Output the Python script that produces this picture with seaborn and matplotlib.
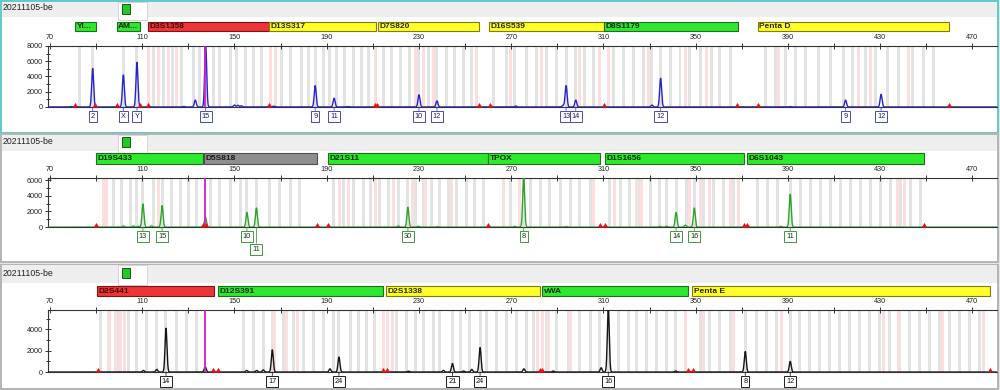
import numpy as np
import pandas as pd
import matplotlib
matplotlib.use("Agg")
import matplotlib.pyplot as plt
import seaborn as sns
from matplotlib.patches import Rectangle
from matplotlib.markers import MarkerStyle

# ======================= DATA =======================
sample_name = "20211105-be"
bp_ticks_labeled = [70, 110, 150, 190, 230, 270, 310, 350, 390, 430, 470]
bp_ticks_minor = [90, 130, 170, 210, 250, 290, 330, 370, 410, 450]
cursor_bp = 137.3

# ---- Panel 1 (blue dye) ----
p1_loci = ["Yi...", "AM...", "D3S1358", "D13S317", "D7S820", "D16S539", "D8S1179", "Penta D"]
p1_loci_start = [81.0, 98.9, 112.4, 165.1, 212.4, 260.4, 310.4, 376.9]
p1_loci_end = [90.0, 109.0, 165.1, 211.2, 256.0, 310.4, 368.2, 459.9]
p1_loci_status = ["green", "green", "red", "yellow", "yellow", "yellow", "green", "yellow"]
p1_peak_bp = [88.5, 101.8, 107.7, 133.0, 137.5, 185.0, 193.2, 230.0, 237.8, 293.8, 298.0, 334.8, 415.0, 430.4]
p1_peak_rfu = [5050, 4200, 5850, 900, 8300, 2800, 1150, 1600, 800, 2800, 900, 3750, 900, 1650]
p1_peak_allele = ["2", "X", "Y", "", "15", "9", "11", "10", "12", "13", "14", "12", "9", "12"]
p1_noise_bp = [79, 81.5, 113, 128, 150, 151.5, 153, 167, 199, 272, 292.5, 331, 391]
p1_noise_rfu = [60, 60, 80, 60, 250, 220, 150, 100, 60, 120, 200, 250, 60]
p1_flags_bp = [81, 89.6, 98.9, 109, 112.5, 164.8, 211.0, 211.8, 255.9, 260.8, 310.4, 368, 376.9, 459.9]
p1_yticks = [0, 2000, 4000, 6000, 8000]
p1_ymax = 8000
p1_bins_gray = [82.6, 88.5, 101.8, 107.6, 114.8, 119.1, 123.2, 127.1, 132.2, 135, 137.5, 140.8,
                143.7, 148.1, 150.9, 154.6, 158.2, 161.8, 170.5, 174.1, 179.1, 182, 185, 188.5,
                191.4, 194.3, 197.9, 201.5, 205.2, 208, 214.5, 218.2, 221.8, 226.1, 230, 234,
                237.8, 242, 245.6, 249.2, 252.9, 262.3, 268, 271.6, 276.7, 281, 285.4, 289.7,
                293.8, 297.7, 302, 305.6, 314.3, 318.6, 322.9, 327.3, 330.9, 334.8, 338.9, 343.2,
                347.5, 351.9, 356.9, 360.5, 364.9, 380.3, 384.6, 389, 393.3, 397.6, 403.4, 408.5,
                414.3, 417.9, 423.7, 428, 433.1, 438.1, 443.9, 449, 453.3]
p1_bins_pink = [112.9, 117, 121.3, 124.9, 165.5, 168, 211.3, 228.3, 231.9, 236.2, 255, 269.5,
                283.2, 299.8, 308.5, 312.1, 329.5, 345.4, 354.7, 386, 420.8, 425.9, 442.5]

# ---- Panel 2 (green dye) ----
p2_loci = ["D19S433", "D5S818", "D21S11", "TPOX", "D1S1656", "D6S1043"]
p2_loci_start = [89.8, 136.9, 190.7, 260.1, 310.7, 372.1]
p2_loci_end = [136.2, 185.7, 260.1, 308.6, 371.1, 449.1]
p2_loci_status = ["green", "gray", "green", "green", "green", "green"]
p2_peak_bp = [110.3, 118.6, 155.4, 159.5, 225.2, 275.4, 341.5, 349.4, 391.0]
p2_peak_rfu = [2950, 2750, 1870, 2440, 2530, 6400, 1870, 2440, 4200]
p2_peak_allele = ["13", "15", "10", "11", "30", "8", "14", "16", "11"]
p2_noise_bp = [101.8, 106.1, 108.3, 114, 137.4, 221, 229.7, 238, 271.6, 294, 334.5, 337.4, 345.5, 386.9]
p2_noise_rfu = [150, 150, 100, 150, 1300, 150, 100, 60, 100, 80, 100, 100, 250, 100]
p2_flags_bp = [89.8, 136.4, 137.5, 185.7, 190.7, 260.1, 308.6, 310.7, 371.1, 372.1, 449.1]
p2_yticks = [0, 2000, 4000, 6000]
p2_ymax = 6270
p2_bins_gray = [97.5, 101.1, 104.7, 107.6, 110.3, 114.8, 118.6, 122.8, 126.4, 130, 133.6, 139.4,
                143.7, 148.1, 152.4, 155.4, 159.5, 165.4, 169.7, 174.1, 178.4, 192.9, 197.2, 201.5,
                205.9, 208.8, 213.1, 216.7, 221.1, 225.2, 228.3, 231.9, 235.5, 239.1, 242.7, 246.4,
                250.7, 254.3, 257.9, 269.5, 275.4, 278.2, 282.5, 286.8, 291.2, 295.5, 299.8, 304.2,
                312.8, 317.2, 321.5, 325.8, 330.2, 334.5, 337.4, 341.5, 346, 349.4, 353.3, 357.6,
                361.9, 366.3, 376.8, 381.2, 385.5, 391, 395.6, 399.9, 404.3, 408.6, 412.9, 417.3,
                421.6, 426, 430.3, 434.6, 438.9, 443.3, 447.6]
p2_bins_pink = [93.1, 94.6, 117, 195.5, 199.4, 211, 219, 227, 233, 244, 266.6, 273.8, 305.6,
                315, 324.5, 326.7, 347.5, 351.9, 356.2, 364.9, 368.5, 437.5, 440.4]

# ---- Panel 3 (black dye) ----
p3_loci = ["D2S441", "D12S391", "D2S1338", "vWA", "Penta E"]
p3_loci_start = [90.5, 142.7, 215.7, 283.5, 348.5]
p3_loci_end = [141.0, 214.5, 282.6, 346.8, 477.6]
p3_loci_status = ["red", "green", "yellow", "green", "yellow"]
p3_peak_bp = [120.3, 166.4, 195.3, 244.5, 256.5, 312.1, 371.5, 391.0]
p3_peak_rfu = [4090, 2075, 1400, 800, 2290, 6000, 1915, 990]
p3_peak_allele = ["14", "17", "24", "21", "24", "16", "8", "12"]
p3_noise_bp = [110.5, 116.3, 137.3, 155.3, 159.6, 162.5, 191.4, 225.4, 240.6, 249.3, 252.9, 275.5, 288.2, 309, 341.3]
p3_noise_rfu = [150, 250, 500, 150, 150, 200, 300, 80, 150, 100, 250, 300, 100, 400, 100]
p3_flags_bp = [90.7, 140.8, 143, 214.5, 216, 282.5, 283.5, 346.5, 348.7, 477.6]
p3_yticks = [0, 2000, 4000]
p3_ymax = 5800
p3_bins_gray = [91.7, 95.3, 99.6, 104, 107.6, 112, 116.3, 120.3, 125, 129.3, 133.6, 153.8, 158.2,
                162.5, 166.4, 171.2, 175.5, 179.9, 184.2, 188.5, 192.9, 195.3, 200.1, 203.7, 207.3,
                210.9, 220.3, 224.7, 228.3, 231.9, 236.2, 239.1, 244.5, 247.8, 252.1, 256.5, 259.4,
                263.7, 268, 272.4, 276.7, 279.6, 285.4, 289.7, 294.8, 299.8, 304.2, 308.5, 312.1,
                316.5, 320.8, 324.4, 328.8, 333.1, 337.4, 341.1, 351.9, 356.2, 360.5, 364.9, 371.5,
                376.4, 380.8, 385.1, 391, 395.2, 399.5, 403.9, 408.2, 412.5, 416.9, 421.2, 425.5,
                429.9, 434.2, 438.5, 442.8, 447.2, 451.5, 455.8, 460.2, 464.5, 468.8, 473.2]
p3_bins_pink = [96, 98.2, 100.4, 102.5, 167.5, 172.5, 177.5, 214.5, 216.5, 218.5, 281.6, 283.5,
                286, 295.5, 345.4, 353.3, 366.3, 387.3, 431.3, 437.8, 457, 475]

# ======================= STYLE / LAYOUT =======================
W, H = 1000, 390
sns.set_theme(style="white")
plt.rcParams['font.family'] = ['Liberation Sans', 'DejaVu Sans']

status_fill = {"green": "#2ee82e", "yellow": "#ffff2a", "red": "#ee3535", "gray": "#8e8e8e"}
status_edge = {"green": "#1d6e1d", "yellow": "#7d7d10", "red": "#7a1515", "gray": "#505050"}
status_text = {"green": "#0c2a0c", "yellow": "#2a2a00", "red": "#4a0808", "gray": "#1a1a1a"}

panels = [
    dict(loci=p1_loci, ls=p1_loci_start, le=p1_loci_end, st=p1_loci_status,
         pbp=p1_peak_bp, prfu=p1_peak_rfu, pal=p1_peak_allele, nbp=p1_noise_bp, nrfu=p1_noise_rfu,
         flags=p1_flags_bp, yt=p1_yticks, ymax=p1_ymax, bg=p1_bins_gray, bp=p1_bins_pink,
         color="#2424cf", box="#4848c8", boxtext="#1c1c70", row2=set(),
         frame=(0.8, 0.8, 998.2, 133), fcol="#5fcaca", header=(1.5, 1.5, 997, 16.5), text_y=8,
         icon=(1.5, 19.5), bars=(21.6, 30.8), plot=(46, 107.2)),
    dict(loci=p2_loci, ls=p2_loci_start, le=p2_loci_end, st=p2_loci_status,
         pbp=p2_peak_bp, prfu=p2_peak_rfu, pal=p2_peak_allele, nbp=p2_noise_bp, nrfu=p2_noise_rfu,
         flags=p2_flags_bp, yt=p2_yticks, ymax=p2_ymax, bg=p2_bins_gray, bp=p2_bins_pink,
         color="#2aa52a", box="#3c9a3c", boxtext="#123812", row2={3},
         frame=(0.8, 134, 998.2, 262), fcol="#b4b4b4", header=(1.5, 134.5, 997, 150.5), text_y=141,
         icon=(134.5, 152.5), bars=(153.3, 163.7), plot=(178, 227.3)),
    dict(loci=p3_loci, ls=p3_loci_start, le=p3_loci_end, st=p3_loci_status,
         pbp=p3_peak_bp, prfu=p3_peak_rfu, pal=p3_peak_allele, nbp=p3_noise_bp, nrfu=p3_noise_rfu,
         flags=p3_flags_bp, yt=p3_yticks, ymax=p3_ymax, bg=p3_bins_gray, bp=p3_bins_pink,
         color="#151515", box="#222222", boxtext="#111111", row2=set(),
         frame=(0.8, 264.5, 998.2, 389.3), fcol="#b4b4b4", header=(1.5, 265, 997, 283), text_y=273,
         icon=(265, 285), bars=(286, 296.2), plot=(310, 372.3)),
]

X0, X1 = 48, 997
XLIM = (70 - 2 / 2.306, 70 + (X1 - 50) / 2.306)

fig = plt.figure(figsize=(W / 100, H / 100), dpi=100)
fig.patch.set_facecolor("#e6e6e6")


def px_axes(x0, y0, x1, y1, **kw):
    return fig.add_axes([x0 / W, 1 - y1 / H, (x1 - x0) / W, (y1 - y0) / H], **kw)


bg = fig.add_axes([0, 0, 1, 1], zorder=-5)
bg.set_xlim(0, W)
bg.set_ylim(H, 0)
bg.axis("off")

flag_marker = MarkerStyle([(-1, 0), (1, 0), (0, 1.6), (-1, 0)])
xs = np.linspace(XLIM[0], XLIM[1], 9000)
sigma = 0.42

for P in panels:
    fx0, fy0, fx1, fy1 = P["frame"]
    bg.add_patch(Rectangle((fx0, fy0), fx1 - fx0, fy1 - fy0, fc="white", ec=P["fcol"], lw=1.4))
    hx0, hy0, hx1, hy1 = P["header"]
    bg.add_patch(Rectangle((hx0, hy0), hx1 - hx0, hy1 - hy0, fc="#eeeeee", ec="none"))
    iy0, iy1 = P["icon"]
    bg.add_patch(Rectangle((118, iy0), 29, iy1 - iy0, fc="white", ec="#d0d0d0", lw=0.6))
    bg.add_patch(Rectangle((121.5, iy0 + 2.5), 8.5, 10, fc="#25c825", ec="#126012", lw=0.7))
    bg.text(3, P["text_y"], sample_name, fontsize=6.3, va="center", ha="left", color="#222222")

    # locus bars
    by0, by1 = P["bars"]
    axl = px_axes(X0, by0, X1, by1)
    axl.set_xlim(*XLIM)
    axl.set_ylim(0, 1)
    axl.axis("off")
    for name, s, e, st in zip(P["loci"], P["ls"], P["le"], P["st"]):
        axl.barh(0.5, e - s, left=s, height=1.0, color=status_fill[st],
                 edgecolor=status_edge[st], lw=0.8, clip_on=False)
        axl.text(s + 0.7, 0.5, name, fontsize=6.0, fontweight="bold", va="center", ha="left",
                 color=status_text[st], clip_on=False)

    # main electropherogram
    py0, py1 = P["plot"]
    ax = px_axes(X0, py0, X1, py1)
    ymax = P["ymax"]
    ax.set_xlim(*XLIM)
    ax.set_ylim(-ymax * 0.004, ymax)
    for b in P["bg"]:
        ax.axvspan(b - 0.65, b + 0.65, color="#e3e3e3", lw=0, zorder=0)
    for b in P["bp"]:
        ax.axvspan(b - 0.65, b + 0.65, color="#fcdede", lw=0, zorder=0)

    all_bp = list(P["pbp"]) + list(P["nbp"])
    all_h = list(P["prfu"]) + list(P["nrfu"])
    ys = np.zeros_like(xs)
    for c, h in zip(all_bp, all_h):
        ys += h * np.exp(-0.5 * ((xs - c) / sigma) ** 2)
    df = pd.DataFrame({"bp": xs, "rfu": ys})
    sns.lineplot(data=df, x="bp", y="rfu", ax=ax, color=P["color"], lw=1.0,
                 estimator=None, sort=False, zorder=3)
    ax.axvline(cursor_bp, color="#d21ed2", lw=1.3, zorder=4)
    ax.scatter(P["flags"], np.zeros(len(P["flags"])), marker=flag_marker, s=42,
               color="#ee1111", lw=0, zorder=6, clip_on=False)

    for i, (c, lab) in enumerate(zip(P["pbp"], P["pal"])):
        if not lab:
            continue
        off = 22 if i in P["row2"] else 9.4
        ax.annotate(lab, xy=(c, 0), xycoords="data", xytext=(0, -off), textcoords="offset pixels",
                    ha="center", va="center", fontsize=5.3, color=P["boxtext"],
                    bbox=dict(boxstyle="square,pad=0.28", fc="white", ec=P["box"], lw=0.7),
                    arrowprops=dict(arrowstyle="-", color=P["box"], lw=0.6, shrinkA=0, shrinkB=0),
                    annotation_clip=False, zorder=7)

    ax.set_xlabel("")
    ax.set_ylabel("")
    ax.xaxis.tick_top()
    ax.set_xticks(bp_ticks_labeled)
    ax.set_xticklabels([str(t) for t in bp_ticks_labeled])
    ax.set_xticks(bp_ticks_minor, minor=True)
    ax.tick_params(axis="x", which="both", top=True, bottom=False, labeltop=True, labelbottom=False,
                   direction="inout", length=4, width=0.7, color="#333333", labelsize=5.2,
                   labelcolor="#222222", pad=1.5)
    ax.set_yticks(P["yt"])
    ax.set_yticklabels([str(t) for t in P["yt"]])
    ax.set_yticks([v for v in range(1000, int(ymax) + 1, 2000)], minor=True)
    ax.tick_params(axis="y", which="both", left=True, right=False, direction="inout",
                   length=4, width=0.7, color="#333333", labelsize=5.2, labelcolor="#222222", pad=1.5)
    ax.tick_params(axis="y", which="minor", length=3)
    for side in ["left", "top", "bottom"]:
        ax.spines[side].set_visible(True)
        ax.spines[side].set_color("#333333")
        ax.spines[side].set_linewidth(0.8)
    ax.spines["right"].set_visible(False)
    ax.set_facecolor("white")
    ax.grid(False)

fig.savefig("out.png", dpi=100)
